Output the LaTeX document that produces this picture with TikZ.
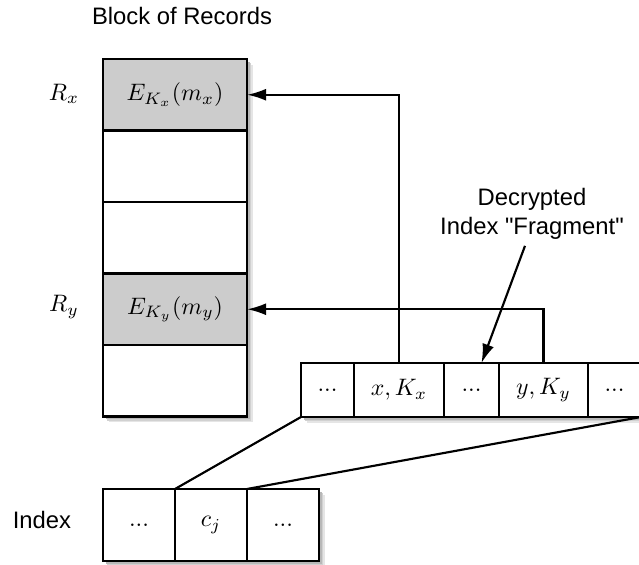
\documentclass[tikz,border=0pt]{standalone}
\usepackage{fontspec}
\newfontfamily\hv{Liberation Sans}
\usetikzlibrary{arrows.meta,calc}
\def\u{0.42pt}
\tikzset{
  cell/.style={draw, line width=1pt, fill=white, rectangle, inner sep=0pt, outer sep=0pt},
  blk/.style={cell, minimum width=144*\u, minimum height=71.5*\u},
  fr/.style={cell, minimum height=54*\u},
  ix/.style={cell, minimum width=72*\u, minimum height=72*\u},
  arr/.style={line width=0.9pt, -{Latex[length=8pt,width=5pt]}},
  ln/.style={line width=0.9pt},
  lbl/.style={font=\hv, inner sep=0pt, align=center},
  shd/.style={fill=black!25},
}
\newcommand\shbox[4]{%
  \fill[black!10] (#1+6,#2+6) rectangle (#3+6,#4+6);
  \fill[black!18] (#1+4.5,#2+4.5) rectangle (#3+4.5,#4+4.5);
  \fill[black!28] (#1+3,#2+3) rectangle (#3+3,#4+3);}
\begin{document}
\begin{tikzpicture}[x=\u, y=-\u]
\useasboundingbox (0,0) rectangle (639,565);
% shadows
\shbox{103}{59}{247}{416.5}
\shbox{301}{363}{641}{417}
\shbox{103}{489}{319}{561}
% block of records
\node[lbl] (title) at (182,16) {Block of Records};
\node[blk, fill=gray!40] (b1) at (175,94.75) {$E_{K_x}(m_x)$};
\node[blk] (b2) at (175,166.25) {};
\node[blk] (b3) at (175,237.75) {};
\node[blk, fill=gray!40] (b4) at (175,309.25) {$E_{K_y}(m_y)$};
\node[blk] (b5) at (175,380.75) {};
\node (rx) at (64,94) {$R_x$};
\node (ry) at (64,307) {$R_y$};
% fragment
\node[fr, minimum width=53*\u] (f1) at (327.5,390) {...};
\node[fr, minimum width=90*\u] (f2) at (399,390) {$x,K_x$};
\node[fr, minimum width=55*\u] (f3) at (471.5,390) {...};
\node[fr, minimum width=89*\u] (f4) at (543.5,390) {$y,K_y$};
\node[fr, minimum width=53*\u] (f5) at (614.5,390) {...};
% index
\node[ix] (i1) at (139,525) {...};
\node[ix] (i2) at (211,525) {$c_j$};
\node[ix] (i3) at (283,525) {...};
\node[lbl] (idx) at (42,520) {Index};
% connectors
\draw[arr] (f2.north) |- (b1.east);
\draw[arr] (f4.north) |- (b4.east);
\draw[ln] (i2.north west) -- (f1.south west);
\draw[ln] (i2.north east) -- (f5.south east);
\node[lbl] (dec) at (532,214) {Decrypted\\Index "Fragment"};
\draw[arr] ([xshift=-7*\u, yshift=-6*\u]dec.south) -- ([xshift=10*\u]f3.north);
\end{tikzpicture}
\end{document}
